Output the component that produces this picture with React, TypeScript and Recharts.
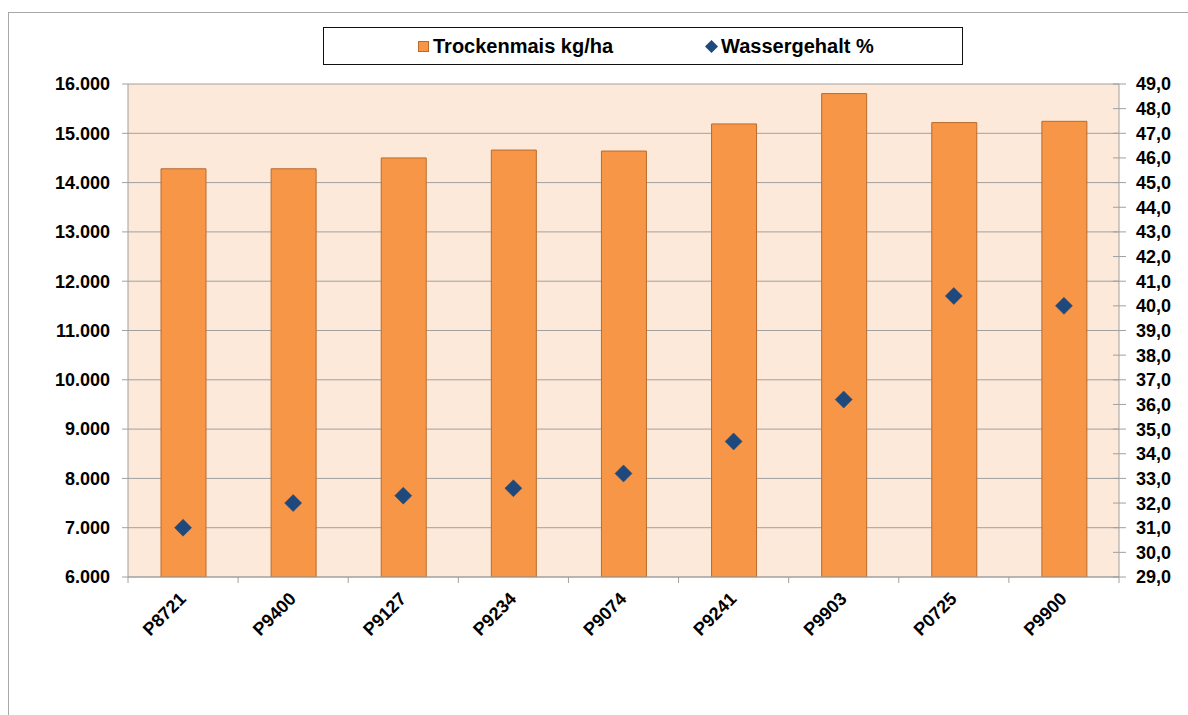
import React from 'react';
import { ComposedChart, Bar, Line, XAxis, YAxis, CartesianGrid, Legend } from 'recharts';

const categories = ['P8721', 'P9400', 'P9127', 'P9234', 'P9074', 'P9241', 'P9903', 'P0725', 'P9900'];
const trockenmais = [14280, 14280, 14500, 14660, 14640, 15190, 15805, 15217, 15243];
const wassergehalt = [31.0, 32.0, 32.3, 32.6, 33.2, 34.5, 36.2, 40.4, 40.0];
const leftTicks = [6000, 7000, 8000, 9000, 10000, 11000, 12000, 13000, 14000, 15000, 16000];
const rightTicks = [29, 30, 31, 32, 33, 34, 35, 36, 37, 38, 39, 40, 41, 42, 43, 44, 45, 46, 47, 48, 49];

const seriesNames = ['Trockenmais kg/ha', 'Wassergehalt %'];

const data = categories.map((name, i) => ({
  name,
  trockenmais: trockenmais[i],
  wassergehalt: wassergehalt[i],
}));

const FONT = '"Liberation Sans", Arial, sans-serif';
const GRID = '#A0A0A0';
const BAR_FILL = '#F79646';
const BAR_STROKE = '#BA6B2C';
const DIAMOND = '#1F497D';

const fmtLeft = (v: number) => v.toLocaleString('de-DE', { minimumFractionDigits: 0 }).replace(/\s/g, '.');
const fmtLeftSafe = (v: number) => {
  const s = String(Math.round(v));
  return s.replace(/\B(?=(\d{3})+(?!\d))/g, '.');
};
const fmtRight = (v: number) => v.toFixed(1).replace('.', ',');

const XTick = (props: any) => {
  const { x, y, payload, index, visibleTicksCount } = props;
  const half = payload && payload.offset ? payload.offset : 55.06;
  const isLast = index === (visibleTicksCount ? visibleTicksCount - 1 : categories.length - 1);
  return (
    <g>
      <line x1={x - half} y1={y} x2={x - half} y2={y + 6} stroke={GRID} strokeWidth={1} />
      {isLast && <line x1={x + half} y1={y} x2={x + half} y2={y + 6} stroke={GRID} strokeWidth={1} />}
      <text
        x={x + 4}
        y={y + 23}
        textAnchor="end"
        transform={`rotate(-45, ${x + 4}, ${y + 23})`}
        fontSize={18}
        fontWeight="bold"
        fontFamily={FONT}
        fill="#000"
      >
        {payload.value}
      </text>
    </g>
  );
};

const RightTick = (props: any) => {
  const { x, y, payload } = props;
  return (
    <g>
      <line x1={x - 6} y1={y} x2={x + 7} y2={y} stroke={GRID} strokeWidth={1} />
      <text x={x + 17} y={y} dy="0.36em" textAnchor="start" fontSize={18} fontWeight="bold" fontFamily={FONT} fill="#000">
        {fmtRight(payload.value)}
      </text>
    </g>
  );
};

const DiamondDot = (props: any) => {
  const { cx, cy, index } = props;
  if (cx == null || cy == null) return <g key={`d-${index}`} />;
  const r = 8.5;
  return (
    <polygon
      key={`d-${index}`}
      points={`${cx},${cy - r} ${cx + r},${cy} ${cx},${cy + r} ${cx - r},${cy}`}
      fill={DIAMOND}
      stroke={DIAMOND}
      strokeWidth={0.5}
    />
  );
};

const LegendContent = () => (
  <div
    style={{
      width: '100%',
      height: '100%',
      boxSizing: 'border-box',
      border: '1.5px solid #111',
      background: '#fff',
      display: 'flex',
      alignItems: 'center',
      justifyContent: 'flex-start',
      fontFamily: FONT,
      fontWeight: 'bold',
      fontSize: 20,
      color: '#000',
    }}
  >
    <div style={{ display: 'flex', alignItems: 'center', marginLeft: 94 }}>
      <svg width={11} height={11} style={{ marginRight: 4 }}>
        <rect x={0.5} y={0.5} width={10} height={10} fill={BAR_FILL} stroke={BAR_STROKE} strokeWidth={1} />
      </svg>
      <span>{seriesNames[0]}</span>
    </div>
    <div style={{ display: 'flex', alignItems: 'center', marginLeft: 92 }}>
      <svg width={13} height={13} style={{ marginRight: 3 }}>
        <polygon points="6.5,0 13,6.5 6.5,13 0,6.5" fill={DIAMOND} />
      </svg>
      <span>{seriesNames[1]}</span>
    </div>
  </div>
);

export default function App() {
  return (
    <div style={{ position: 'absolute', left: 0, top: 0, width: 1188, height: 715, overflow: 'hidden', background: '#fff', fontFamily: FONT }}>
      <div
        style={{
          position: 'absolute',
          left: 8,
          top: 12,
          width: 1300,
          height: 800,
          borderTop: '1px solid #A8A8A8',
          borderLeft: '1px solid #A8A8A8',
        }}
      />
      <div style={{ position: 'absolute', left: 0, top: 0 }}>
        <ComposedChart width={1188} height={715} data={data} margin={{ top: 84, right: 9, bottom: 8, left: 8 }} barCategoryGap="59%">
          <CartesianGrid yAxisId="left" vertical={false} stroke={GRID} fill="#FDE9D9" fillOpacity={1} />
          <XAxis
            dataKey="name"
            height={130}
            interval={0}
            tickLine={false}
            tickSize={0}
            tickMargin={0}
            axisLine={{ stroke: GRID, strokeWidth: 1 }}
            tick={<XTick />}
          />
          <YAxis
            yAxisId="left"
            orientation="left"
            domain={[6000, 16000]}
            ticks={leftTicks}
            interval={0}
            width={120}
            tickSize={6}
            tickMargin={12}
            axisLine={{ stroke: GRID, strokeWidth: 1 }}
            tickLine={{ stroke: GRID, strokeWidth: 1 }}
            tick={{ fill: '#000', fontSize: 18, fontWeight: 'bold', fontFamily: FONT }}
            tickFormatter={fmtLeftSafe}
            allowDataOverflow
          />
          <YAxis
            yAxisId="right"
            orientation="right"
            domain={[29, 49]}
            ticks={rightTicks}
            interval={0}
            width={60}
            tickSize={0}
            tickMargin={0}
            tickLine={false}
            axisLine={{ stroke: GRID, strokeWidth: 1 }}
            tick={<RightTick />}
            allowDataOverflow
          />
          <Legend
            layout="vertical"
            align="center"
            verticalAlign="middle"
            wrapperStyle={{ left: 323, top: 27, width: 640, height: 38 }}
            content={<LegendContent />}
          />
          <Bar
            yAxisId="left"
            dataKey="trockenmais"
            name={seriesNames[0]}
            fill={BAR_FILL}
            stroke={BAR_STROKE}
            strokeWidth={1}
            barSize={45}
            isAnimationActive={false}
          />
          <Line
            yAxisId="right"
            dataKey="wassergehalt"
            name={seriesNames[1]}
            stroke="none"
            dot={DiamondDot}
            activeDot={false}
            legendType="diamond"
            isAnimationActive={false}
          />
        </ComposedChart>
      </div>
    </div>
  );
}
